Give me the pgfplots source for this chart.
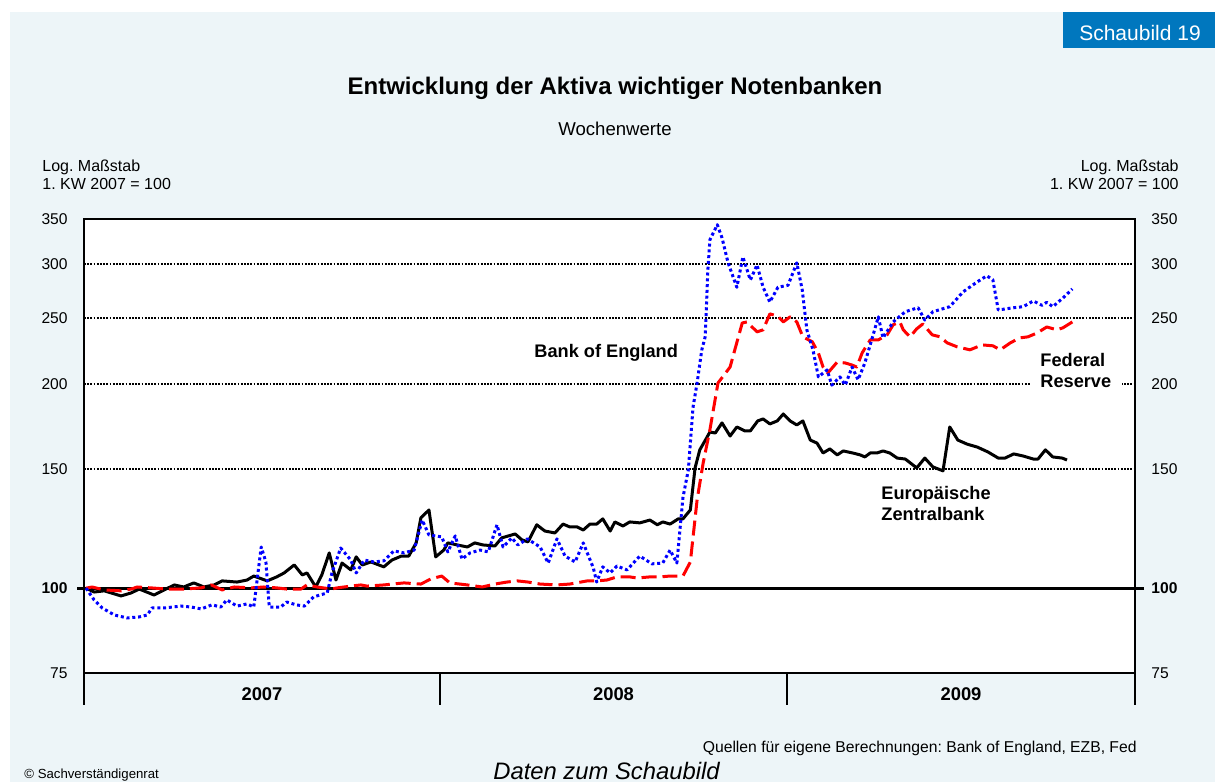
\documentclass[border=0pt]{standalone}
\usepackage{fontspec}
\setmainfont{Liberation Sans}
\usepackage{pgfplots}
\usepackage{pgfplotstable}
\pgfplotsset{compat=1.18}
\definecolor{bgblue}{RGB}{237,245,248}
\definecolor{boxblue}{RGB}{0,119,190}
\definecolor{fedred}{RGB}{255,0,0}
\definecolor{boeblue}{RGB}{0,0,255}
\frenchspacing

% week index (0 = start of 2007), index value (1. KW 2007 = 100)
\pgfplotstableread{
w v
0.3 100
1.5 98.7
3.0 99.1
5.5 97.4
7.0 98.4
8.2 99.7
10.4 97.7
11.9 99.4
13.4 101.1
14.8 100.4
16.3 101.8
17.8 100.4
19.3 101.1
20.5 102.5
22.7 102.1
24.2 102.8
25.2 104.2
27.2 102.5
28.6 103.9
29.7 105.3
31.2 108.2
32.4 104.6
33.1 105.3
34.4 100.4
35.3 104.6
36.4 112.7
37.4 102.8
38.3 108.9
39.6 106.4
40.4 111.2
41.3 108.2
42.6 109.3
44.5 107.5
45.7 110.0
47.1 111.5
48.2 111.5
49.3 116.6
50.0 126.9
51.2 130.4
52.2 111.2
53.4 113.8
54.0 116.6
55.4 115.8
56.9 115.0
58.0 116.6
59.2 115.8
61.0 115.4
62.0 118.6
64.0 120.2
65.0 117.8
65.9 117.0
67.2 124.0
68.4 121.4
69.9 120.6
71.1 124.3
72.1 123.1
73.2 123.1
74.1 121.8
75.1 124.3
76.1 124.3
77.0 126.5
78.1 121.4
78.8 125.2
80.0 123.5
81.0 125.2
82.5 124.8
84.0 126.0
85.1 124.0
85.9 125.2
87.0 124.3
88.2 126.5
88.9 126.5
90.0 130.4
90.7 150.4
91.4 159.9
92.5 167.1
92.9 169.9
93.7 169.3
94.7 175.2
95.9 167.6
96.9 172.8
98.1 170.5
98.9 170.5
100.0 176.4
100.8 177.6
101.8 174.6
102.9 176.4
103.8 180.6
104.8 176.4
105.8 174.0
106.7 176.4
107.8 165.3
108.8 163.6
109.7 158.2
110.7 160.4
111.8 157.2
112.7 159.3
114.1 158.2
115.2 157.2
115.9 156.1
116.7 158.2
117.7 158.2
118.6 159.3
119.6 158.2
120.7 155.5
121.9 155.0
123.6 150.4
124.8 155.5
126.0 150.9
127.5 148.9
128.5 172.8
129.7 165.3
131.1 163.0
132.6 161.4
134.2 158.7
135.7 155.5
136.7 155.5
138.0 157.7
139.4 156.6
140.9 155.0
141.6 155.0
142.7 159.9
143.8 156.1
145.2 155.5
145.9 154.5
}\ezb

\pgfplotstableread{
w v
0.3 100
1.2 100.4
3.0 99.4
5.5 99.1
7.0 99.7
7.9 100.4
9.9 100.1
12.3 99.7
14.8 99.7
17.4 100.1
18.9 101.1
20.5 99.4
22.3 100.4
24.8 100.1
26.7 100.4
28.6 100.1
30.1 99.7
32.2 99.7
33.1 101.1
34.6 100.4
36.7 99.7
37.6 100.1
39.6 100.7
41.1 101.1
42.0 100.7
44.5 101.1
47.5 101.8
50.0 101.4
51.5 103.2
53.1 104.2
54.3 101.8
56.9 101.1
59.1 100.4
61.0 101.4
62.8 102.1
64.3 102.5
65.9 102.1
67.7 101.4
70.2 101.1
72.1 101.4
74.7 102.5
76.1 102.5
77.6 102.8
79.1 103.9
81.0 103.9
82.1 103.5
84.0 103.9
85.5 103.9
87.0 104.2
88.9 104.2
90.0 109.3
91.0 134.9
91.9 152.9
92.9 171.1
94.1 200.6
95.9 211.8
96.6 224.5
97.7 245.9
98.4 246.8
99.9 238.6
100.8 240.3
101.8 253.6
102.9 251.9
103.8 246.8
104.8 251.1
105.8 246.8
106.7 234.6
108.1 230.7
109.0 222.2
109.7 211.8
110.4 207.5
111.8 215.4
113.0 214.7
114.0 213.2
114.7 211.8
115.5 222.2
116.7 232.2
117.9 232.2
119.2 236.2
120.1 244.4
121.1 246.8
121.6 240.3
122.6 234.6
123.6 241.1
124.5 245.1
125.9 236.2
127.1 234.6
128.1 229.9
129.6 226.8
131.5 224.5
133.3 228.3
134.9 227.6
136.0 224.5
137.5 229.9
138.9 233.8
140.1 234.6
141.5 237.8
142.9 242.6
144.4 240.3
145.3 241.9
146.7 246.8
}\fed

\pgfplotstableread{
w v
0.3 100
1.5 96.1
2.7 93.5
4.5 91.3
6.4 90.4
8.2 90.7
9.4 91.3
10.1 93.5
11.9 93.5
14.4 94.1
15.9 93.8
17.4 93.2
19.0 94.5
20.3 93.8
21.2 96.1
22.7 94.1
24.2 94.8
25.2 93.8
26.3 115.0
27.0 109.3
27.5 93.8
29.2 93.8
30.1 95.4
31.5 94.5
32.7 94.1
34.1 97.1
36.1 98.4
36.8 105.3
38.1 114.6
39.6 110.0
40.4 105.3
41.6 110.0
43.0 109.3
44.5 109.7
46.0 113.5
47.5 112.7
49.0 113.8
50.2 126.0
51.2 119.8
53.1 119.0
54.0 113.1
55.1 119.4
56.1 110.4
57.3 112.7
58.8 113.8
60.0 113.1
61.3 124.0
62.2 115.0
63.5 118.6
64.4 115.8
65.8 118.2
67.7 115.0
68.9 108.9
70.2 118.2
71.4 111.5
72.9 109.3
74.1 116.6
75.6 107.1
76.1 102.1
77.0 107.5
78.1 105.3
79.1 107.8
80.6 106.4
82.5 111.5
84.3 108.6
85.9 108.9
87.0 113.8
88.0 108.9
88.9 136.0
89.7 149.4
90.4 184.9
91.0 200.6
91.7 224.5
92.2 234.6
92.6 294.5
92.9 326.1
94.0 343.3
94.7 328.3
95.6 301.6
96.9 277.6
97.8 307.8
98.9 284.5
99.9 299.5
100.8 277.6
101.8 264.0
103.0 277.6
104.5 279.5
105.8 301.6
106.6 275.4
107.3 240.0
108.2 224.5
109.0 204.8
110.3 209.7
111.0 199.2
112.2 204.8
113.0 199.2
114.0 211.8
114.9 202.8
115.9 214.7
117.0 233.8
117.9 251.1
118.6 233.8
120.1 246.8
121.9 255.5
123.8 259.0
124.8 248.4
126.0 255.5
128.5 259.9
130.5 273.4
132.6 282.8
134.0 288.6
134.9 284.7
135.7 257.0
138.0 259.0
139.4 259.9
140.9 265.0
142.2 261.1
142.9 263.8
143.8 259.9
145.3 267.7
146.7 276.0
}\boe

\newcommand{\fs}[1]{\fontsize{#1}{#1}\selectfont}

\begin{document}
\begin{tikzpicture}
\begin{scope}[x=0.5pt,y=-0.5pt]
\path[use as bounding box] (0,0) rectangle (1215,782);
\fill[white] (0,0) rectangle (1215,782);
\fill[bgblue] (10,12) rectangle (1215,782);
\fill[boxblue] (1063,12) rectangle (1215,48);
\node[anchor=base, text=white, inner sep=0pt, font=\fs{10.5}] at (1140,40) {Schaubild 19};
\node[anchor=base, inner sep=0pt, font=\fs{12}\bfseries] at (615,94) {Entwicklung der Aktiva wichtiger Notenbanken};
\node[anchor=base, inner sep=0pt, font=\fs{9.3}] at (615,135) {Wochenwerte};
\node[anchor=base west, inner sep=0pt, font=\fs{8}] at (42,171.7) {Log. Maßstab};
\node[anchor=base west, inner sep=0pt, font=\fs{8}] at (42,189) {1. KW 2007 = 100};
\node[anchor=base east, inner sep=0pt, font=\fs{8}] at (1179,171.7) {Log. Maßstab};
\node[anchor=base east, inner sep=0pt, font=\fs{8}] at (1179,189) {1. KW 2007 = 100};
\end{scope}

\begin{axis}[
  at={(42pt,-336.5pt)}, anchor=south west,
  scale only axis, width=525.5pt, height=227pt,
  xmin=0, xmax=156, ymode=log, ymin=75, ymax=350,
  axis background/.style={fill=white},
  axis line style={black, line width=1.3pt},
  clip mode=individual,
  tick pos=left,
  major tick length=0pt,
  xtick=\empty,
  extra x ticks={0,52.84,104.35,156},
  extra x tick labels={},
  extra x tick style={tick align=outside, major tick length=16pt, tick style={black, line width=1pt}},
  ytick={75,100,150,200,250,300,350},
  yticklabels={75,\textbf{100},150,200,250,300,350},
  yticklabel style={anchor=east, inner sep=0pt, xshift=-8pt, font=\fs{7.8}},
  ymajorgrids=true,
  major grid style={black, line width=0.9pt, dash pattern=on 0.9pt off 0.7pt},
  extra y ticks={100},
  extra y tick labels={},
  extra y tick style={tick align=outside, major tick length=3.5pt, tick style={black, line width=1.5pt}, grid=major, major grid style={black, solid, line width=1.5pt}},
]
\addplot[black, line width=1.5pt, line join=round] table[x=w, y=v] {\ezb};
\addplot[fedred, line width=1.5pt, dash pattern=on 7.5pt off 3pt, line join=round] table[x=w, y=v] {\fed};
\addplot[boeblue, line width=1.5pt, dash pattern=on 1.5pt off 1.4pt, line join=round] table[x=w, y=v] {\boe};
\end{axis}

\begin{axis}[
  at={(42pt,-336.5pt)}, anchor=south west,
  scale only axis, width=525.5pt, height=227pt,
  xmin=0, xmax=156, ymode=log, ymin=75, ymax=350,
  axis x line=none, axis y line*=right,
  axis line style={black, line width=1.3pt},
  major tick length=0pt,
  ytick={75,100,150,200,250,300,350},
  yticklabels={75,\textbf{100},150,200,250,300,350},
  yticklabel style={anchor=west, inner sep=0pt, xshift=8pt, font=\fs{7.8}},
  extra y ticks={100},
  extra y tick labels={},
  extra y tick style={tick align=outside, major tick length=4.5pt, tick style={black, line width=1.5pt}},
]
\end{axis}

\begin{scope}[x=0.5pt,y=-0.5pt]
\fill[white] (1030,377) rectangle (1122,391);
\node[anchor=base west, inner sep=0pt, font=\fs{9.1}\bfseries] at (534,357) {Bank of England};
\node[anchor=base west, inner sep=0pt, font=\fs{9.1}\bfseries] at (1040,366.7) {Federal};
\node[anchor=base west, inner sep=0pt, font=\fs{9.1}\bfseries] at (1040,387.3) {Reserve};
\node[anchor=base west, inner sep=0pt, font=\fs{9.1}\bfseries] at (881,499.3) {Europäische};
\node[anchor=base west, inner sep=0pt, font=\fs{9.1}\bfseries] at (881,520) {Zentralbank};
\node[anchor=base, inner sep=0pt, font=\fs{9.2}\bfseries] at (262,700.7) {2007};
\node[anchor=base, inner sep=0pt, font=\fs{9.2}\bfseries] at (613.5,700.7) {2008};
\node[anchor=base, inner sep=0pt, font=\fs{9.2}\bfseries] at (961,700.7) {2009};
\node[anchor=base east, inner sep=0pt, font=\fs{7.85}] at (1137,752.7) {Quellen für eigene Berechnungen: Bank of England, EZB, Fed};
\node[anchor=base west, inner sep=0pt, font=\fs{6.6}] at (24,778) {© Sachverständigenrat};
\node[anchor=base west, inner sep=0pt, font=\fs{11.9}\itshape] at (493,779.5) {Daten zum Schaubild};
\end{scope}
\end{tikzpicture}
\end{document}
